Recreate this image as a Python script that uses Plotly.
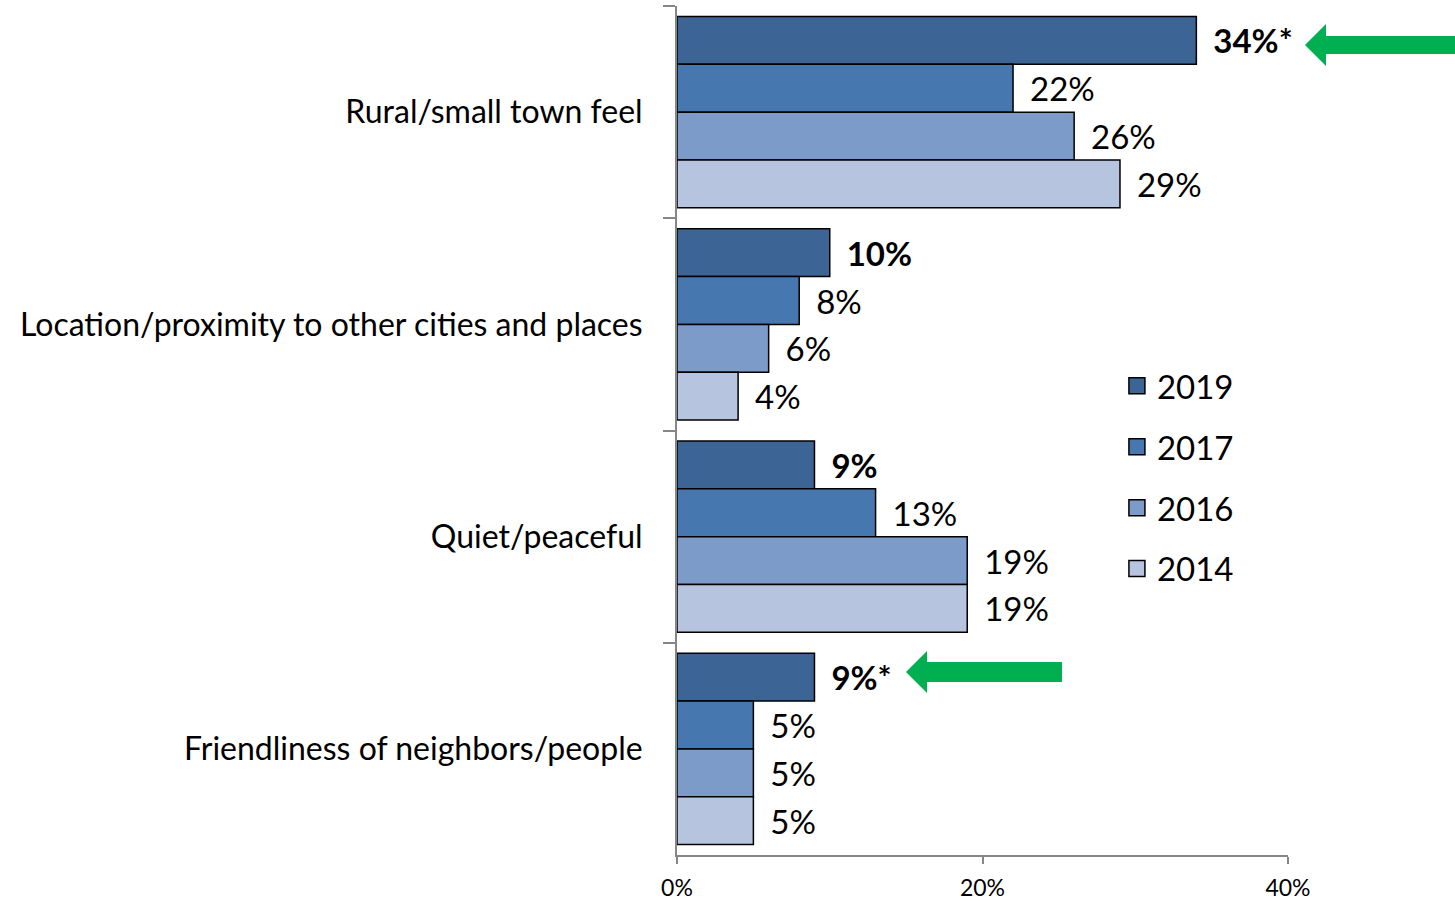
import plotly.graph_objects as go

categories = ["Rural/small town feel",
              "Location/proximity to other cities and places",
              "Quiet/peaceful",
              "Friendliness of neighbors/people"]
years = ["2019", "2017", "2016", "2014"]
values = {
    "2019": [34, 10, 9, 9],
    "2017": [22, 8, 13, 5],
    "2016": [26, 6, 19, 5],
    "2014": [29, 4, 19, 5],
}
significant_2019 = [True, False, False, True]
colors = {"2019": "#3C6495", "2017": "#4677AF", "2016": "#7D9BC8", "2014": "#B7C4DF"}
x_ticks = [0, 20, 40]
x_tick_labels = ["0%", "20%", "40%"]

FONT = "Lato"
W, H = 1455, 902
ML, MR, MT, MB = 677, 167, 6, 47
PW = W - ML - MR
PH = H - MT - MB

fig = go.Figure()
PAD = "\u00a0\u2006"
for yr in years:
    vals = values[yr]
    if yr == "2019":
        texts = [PAD + "<b>%d%%%s</b>" % (v, "*" if s else "") for v, s in zip(vals, significant_2019)]
    else:
        texts = [PAD + "%d%%" % v for v in vals]
    fig.add_trace(go.Bar(
        y=categories, x=vals, orientation="h", name=yr,
        marker=dict(color=colors[yr], line=dict(color="black", width=1.5)),
        text=texts, textposition="outside", constraintext="none", cliponaxis=False,
        textfont=dict(family=FONT, size=33, color="black"),
        showlegend=False, hoverinfo="skip",
    ))
    fig.add_trace(go.Scatter(
        x=[None], y=[None], mode="markers", name=yr,
        marker=dict(symbol="square", size=20, color=colors[yr], line=dict(color="black", width=1.5)),
        legendgroup=yr, showlegend=True,
    ))


def px_x(p):
    return (p - ML) / PW


def px_y(p):
    return 1 - (p - MT) / PH


def arrow(tip_x, base_x, tail_x, yc, shaft_h, head_h):
    pts = [(tip_x, yc), (base_x, yc - head_h / 2), (base_x, yc - shaft_h / 2),
           (tail_x, yc - shaft_h / 2), (tail_x, yc + shaft_h / 2),
           (base_x, yc + shaft_h / 2), (base_x, yc + head_h / 2)]
    path = "M " + " L ".join("%.5f,%.5f" % (px_x(a), px_y(b)) for a, b in pts) + " Z"
    fig.add_shape(type="path", path=path, xref="paper", yref="paper",
                  fillcolor="#00B050", line=dict(width=0), layer="above")


arrow(1305, 1326, 1456, 45, 18, 42)
arrow(906, 927, 1062, 672, 20, 42)

axis_col = "#868686"
fig.update_layout(
    width=W, height=H,
    margin=dict(l=ML, r=MR, t=MT, b=MB, pad=0, autoexpand=False),
    paper_bgcolor="white", plot_bgcolor="white",
    barmode="group", bargap=0.1, bargroupgap=0,
    font=dict(family=FONT, color="black"),
    xaxis=dict(range=[0, 40], tickvals=x_ticks, ticktext=x_tick_labels, automargin=False,
               showgrid=False, zeroline=False, showline=True, linecolor=axis_col, linewidth=2,
               ticks="outside", ticklen=7, tickcolor=axis_col, tickwidth=2,
               tickfont=dict(family=FONT, size=23, color="black"), ticklabelstandoff=4),
    yaxis=dict(autorange="reversed", showgrid=False, zeroline=False, automargin=False,
               showline=True, linecolor=axis_col, linewidth=2,
               ticks="outside", ticklen=12, tickcolor=axis_col, tickwidth=2,
               tickson="boundaries",
               tickfont=dict(family=FONT, size=32, color="black"), ticklabelstandoff=26),
    legend=dict(x=0.72, y=0.5855, xanchor="left", yanchor="top",
                font=dict(family=FONT, size=33, color="black"),
                traceorder="grouped", tracegroupgap=15,
                bgcolor="rgba(0,0,0,0)", itemwidth=30),
)

fig.write_html("out.html")
